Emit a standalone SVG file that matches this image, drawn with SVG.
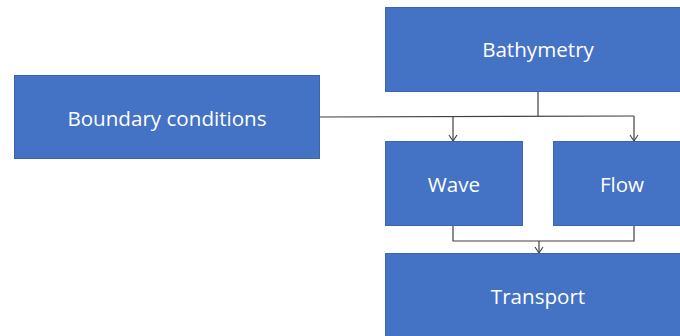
<svg xmlns="http://www.w3.org/2000/svg" width="680" height="336" viewBox="0 0 680 336">
<style>
.box{fill:#4472C4;stroke:#3A64B0;stroke-width:1}
.lbl{font-family:"Open Sans","Liberation Sans",sans-serif;font-size:20.6px;fill:#FFFFFF;text-anchor:middle;dominant-baseline:central}
.ln{fill:none;stroke:#404040;stroke-width:1.2}
</style>
<defs>
<marker id="ah" markerWidth="10" markerHeight="10" refX="5" refY="9" orient="0" markerUnits="userSpaceOnUse">
<path d="M1,3 L5,9 L9,3" fill="none" stroke="#404040" stroke-width="1.1"/>
</marker>
</defs>
<g id="connectors">
<path class="ln" d="M320,117 L634,116"/>
<path class="ln" d="M538,91 L538,116"/>
<path class="ln" d="M453,117 L453,141" marker-end="url(#ah)"/>
<path class="ln" d="M634,116 L634,141" marker-end="url(#ah)"/>
<path class="ln" d="M453,225 L453,241 L634,241 L634,225"/>
<path class="ln" d="M539,241 L539,253" marker-end="url(#ah)"/>
</g>
<g id="boundary"><rect class="box" x="14.5" y="75.5" width="305" height="83"/><text class="lbl" x="167" y="118">Boundary conditions</text></g>
<g id="bathymetry"><rect class="box" x="385.5" y="7.5" width="300" height="84"/><text class="lbl" x="538" y="49">Bathymetry</text></g>
<g id="wave"><rect class="box" x="385.5" y="141.5" width="137" height="84"/><text class="lbl" x="454" y="184">Wave</text></g>
<g id="flow"><rect class="box" x="553.5" y="141.5" width="130" height="84"/><text class="lbl" x="622" y="184">Flow</text></g>
<g id="transport"><rect class="box" x="385.5" y="253.5" width="300" height="90"/><text class="lbl" x="538" y="296">Transport</text></g>
</svg>
